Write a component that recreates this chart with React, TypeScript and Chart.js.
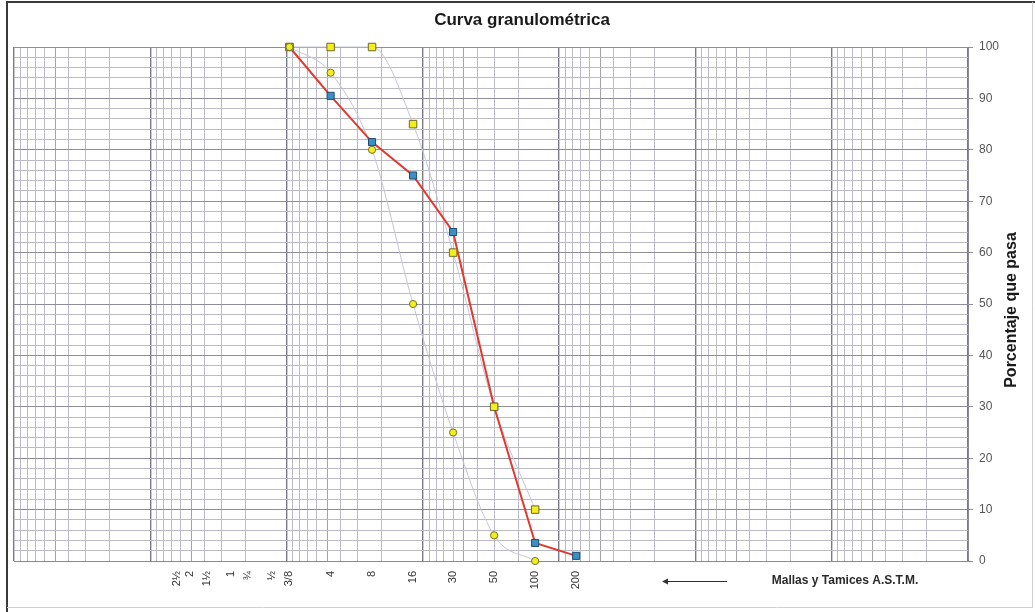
import React, { useEffect, useRef } from "react";
import { Chart, registerables } from "chart.js";

Chart.register(...registerables);

const TITLE = "Curva granulométrica";
const Y_TITLE = "Porcentaje que pasa";
const X_NOTE = "Mallas y Tamices A.S.T.M.";

// Sieve labels and their openings (mm)
const SIEVE_LABELS = ["2½", "2", "1½", "1", "¾", "½", "3/8", "4", "8", "16", "30", "50", "100", "200"];
const SIEVE_MM = [63.5, 50.8, 38.1, 25.4, 19.05, 12.7, 9.525, 4.75, 2.36, 1.18, 0.6, 0.3, 0.15, 0.075];

// Sample curve (red line, blue squares)
const SAMPLE_SIEVES = ["3/8", "4", "8", "16", "30", "50", "100", "200"];
const SAMPLE_PASSING = [100, 90.5, 81.5, 75, 64, 30, 3.5, 1];

// Upper limit (yellow squares)
const UPPER_SIEVES = ["3/8", "4", "8", "16", "30", "50", "100"];
const UPPER_LIMIT = [100, 100, 100, 85, 60, 30, 10];

// Lower limit (yellow circles)
const LOWER_SIEVES = ["3/8", "4", "8", "16", "30", "50", "100"];
const LOWER_LIMIT = [100, 95, 80, 50, 25, 5, 0];

const Y_TICKS = [0, 10, 20, 30, 40, 50, 60, 70, 80, 90, 100];

const FONT = '"Liberation Sans", Arial, Helvetica, sans-serif';

const mm = (label: string) => SIEVE_MM[SIEVE_LABELS.indexOf(label)];
const pts = (sieves: string[], vals: number[]) => sieves.map((s, i) => ({ x: mm(s), y: vals[i] }));

function gridTicks() {
  const out: { value: number }[] = [];
  for (let e = -4; e <= 2; e++) {
    for (let s = 1; s <= 9; s++) {
      out.push({ value: parseFloat((s * Math.pow(10, e)).toPrecision(6)) });
    }
  }
  out.push({ value: 1000 });
  return out;
}

function mantissa(v: number) {
  const e = Math.floor(Math.log10(v) + 1e-9);
  return Math.round((v / Math.pow(10, e)) * 1000) / 1000;
}

const decor = {
  id: "decor",
  beforeDraw(chart: any) {
    const ctx = chart.ctx;
    ctx.save();
    ctx.fillStyle = "#ffffff";
    ctx.fillRect(0, 0, chart.width, chart.height);
    ctx.restore();
  },
  afterDraw(chart: any) {
    const ctx = chart.ctx;
    ctx.save();
    // frame
    ctx.strokeStyle = "#3a3a3a";
    ctx.lineWidth = 2;
    ctx.beginPath();
    ctx.moveTo(7, 612);
    ctx.lineTo(7, 2);
    ctx.lineTo(1035, 2);
    ctx.stroke();
    ctx.strokeStyle = "#d0d0d0";
    ctx.lineWidth = 1;
    ctx.beginPath();
    ctx.moveTo(1032.5, 2);
    ctx.lineTo(1032.5, 607);
    ctx.moveTo(7, 607.5);
    ctx.lineTo(1033, 607.5);
    ctx.stroke();

    // title
    ctx.fillStyle = "#1a1a1a";
    ctx.textAlign = "center";
    ctx.textBaseline = "middle";
    ctx.font = `bold 17px ${FONT}`;
    ctx.fillText(TITLE, 522, 20);

    // x note
    ctx.font = `bold 12px ${FONT}`;
    ctx.fillStyle = "#2a2a2a";
    ctx.fillText(X_NOTE, 845, 581);

    // arrow
    ctx.strokeStyle = "#333";
    ctx.lineWidth = 1;
    ctx.beginPath();
    ctx.moveTo(666, 581.5);
    ctx.lineTo(727, 581.5);
    ctx.stroke();
    ctx.fillStyle = "#333";
    ctx.beginPath();
    ctx.moveTo(662, 581.5);
    ctx.lineTo(668, 578.5);
    ctx.lineTo(668, 584.5);
    ctx.closePath();
    ctx.fill();

    // y title
    ctx.translate(1012, 310);
    ctx.rotate(-Math.PI / 2);
    ctx.font = `bold 16px ${FONT}`;
    ctx.fillStyle = "#1a1a1a";
    ctx.fillText(Y_TITLE, 0, 0);
    ctx.restore();
  },
};

export default function App() {
  const ref = useRef<HTMLCanvasElement | null>(null);

  useEffect(() => {
    if (!ref.current) return;
    const lineCol = "#c3c6da";
    const yellow = "#f3ee1c";
    const chart = new Chart(ref.current, {
      type: "line",
      data: {
        datasets: [
          {
            label: "Límite superior (curva)",
            data: pts(UPPER_SIEVES, UPPER_LIMIT),
            borderColor: lineCol,
            borderWidth: 1,
            pointRadius: 0,
            cubicInterpolationMode: "monotone",
            fill: false,
            order: 3,
            clip: false,
          } as any,
          {
            label: "Límite inferior (curva)",
            data: pts(LOWER_SIEVES, LOWER_LIMIT),
            borderColor: lineCol,
            borderWidth: 1,
            pointRadius: 0,
            cubicInterpolationMode: "monotone",
            fill: false,
            order: 3,
            clip: false,
          } as any,
          {
            label: "Muestra",
            data: pts(SAMPLE_SIEVES, SAMPLE_PASSING),
            borderColor: "#e2392f",
            borderWidth: 2,
            pointStyle: "rect",
            pointRadius: 5,
            pointBackgroundColor: "#3b8fc6",
            pointBorderColor: "#1d4a6e",
            pointBorderWidth: 1,
            fill: false,
            tension: 0,
            order: 2,
            clip: false,
          } as any,
          {
            label: "Límite superior",
            data: pts(UPPER_SIEVES, UPPER_LIMIT),
            showLine: false,
            pointStyle: "rect",
            pointRadius: 5.3,
            pointBackgroundColor: yellow,
            pointBorderColor: "#6e6a28",
            pointBorderWidth: 1,
            order: 1,
            clip: false,
          } as any,
          {
            label: "Límite inferior",
            data: pts(LOWER_SIEVES, LOWER_LIMIT),
            showLine: false,
            pointStyle: "circle",
            pointRadius: 3.6,
            pointBackgroundColor: yellow,
            pointBorderColor: "#77722a",
            pointBorderWidth: 1,
            order: 0,
            clip: false,
          } as any,
        ],
      },
      options: {
        animation: false,
        responsive: false,
        maintainAspectRatio: false,
        events: [],
        layout: { padding: { left: 14, top: 47, right: 0, bottom: 0 } },
        plugins: {
          legend: { display: false },
          tooltip: { enabled: false },
          title: { display: false },
        },
        scales: {
          x: {
            type: "logarithmic",
            position: "bottom",
            reverse: true,
            min: 0.0001,
            max: 1000,
            weight: 0,
            afterBuildTicks: (s: any) => {
              s.ticks = gridTicks();
            },
            afterFit: (s: any) => {
              s.height = 0;
            },
            ticks: { display: false, autoSkip: false },
            grid: {
              drawTicks: false,
              tickLength: 0,
              color: (c: any) => {
                const v = c.tick ? c.tick.value : 1;
                const m = mantissa(v);
                if (m === 1) return "#7b7b88";
                if (m === 5) return "#a2a2ae";
                return "#babac6";
              },
              lineWidth: (c: any) => {
                const v = c.tick ? c.tick.value : 1;
                return mantissa(v) === 1 ? 1.4 : 1;
              },
            },
            border: { display: true, color: "#8a8a96", width: 1 },
          },
          xs: {
            type: "logarithmic",
            position: "bottom",
            reverse: true,
            min: 0.0001,
            max: 1000,
            weight: 1,
            afterBuildTicks: (s: any) => {
              s.ticks = SIEVE_MM.map((v) => ({ value: v }));
            },
            afterFit: (s: any) => {
              s.height = 51;
            },
            ticks: {
              autoSkip: false,
              maxRotation: 90,
              minRotation: 90,
              padding: 10,
              color: "#333",
              font: { size: 11, family: FONT },
              callback: (_v: any, i: number) => SIEVE_LABELS[i],
            },
            grid: { display: false, drawTicks: false, tickLength: 0 },
            border: { display: false },
          },
          y: {
            type: "linear",
            position: "right",
            min: 0,
            max: 100,
            afterBuildTicks: (s: any) => {
              const t: { value: number }[] = [];
              for (let v = 0; v <= 100; v += 2) t.push({ value: v });
              s.ticks = t;
            },
            afterFit: (s: any) => {
              s.width = 67;
            },
            ticks: {
              autoSkip: false,
              padding: 6,
              color: "#555",
              font: { size: 12, family: FONT },
              callback: (v: any) => (Y_TICKS.includes(Number(v)) ? String(v) : ""),
            },
            grid: {
              tickLength: 5,
              color: (c: any) => {
                const v = c.tick ? c.tick.value : 0;
                return v % 10 === 0 ? "#8e8e9a" : "#bbbbc6";
              },
              tickColor: (c: any) => {
                const v = c.tick ? c.tick.value : 0;
                return v % 10 === 0 ? "#8e8e9a" : "rgba(0,0,0,0)";
              },
            },
            border: { display: true, color: "#8a8a96", width: 1 },
          },
        },
      } as any,
      plugins: [decor],
    });
    return () => chart.destroy();
  }, []);

  return (
    <div style={{ position: "fixed", left: 0, top: 0, width: 1035, height: 612, background: "#fff" }}>
      <canvas ref={ref} width={1035} height={612} style={{ display: "block", width: 1035, height: 612 }} />
    </div>
  );
}
